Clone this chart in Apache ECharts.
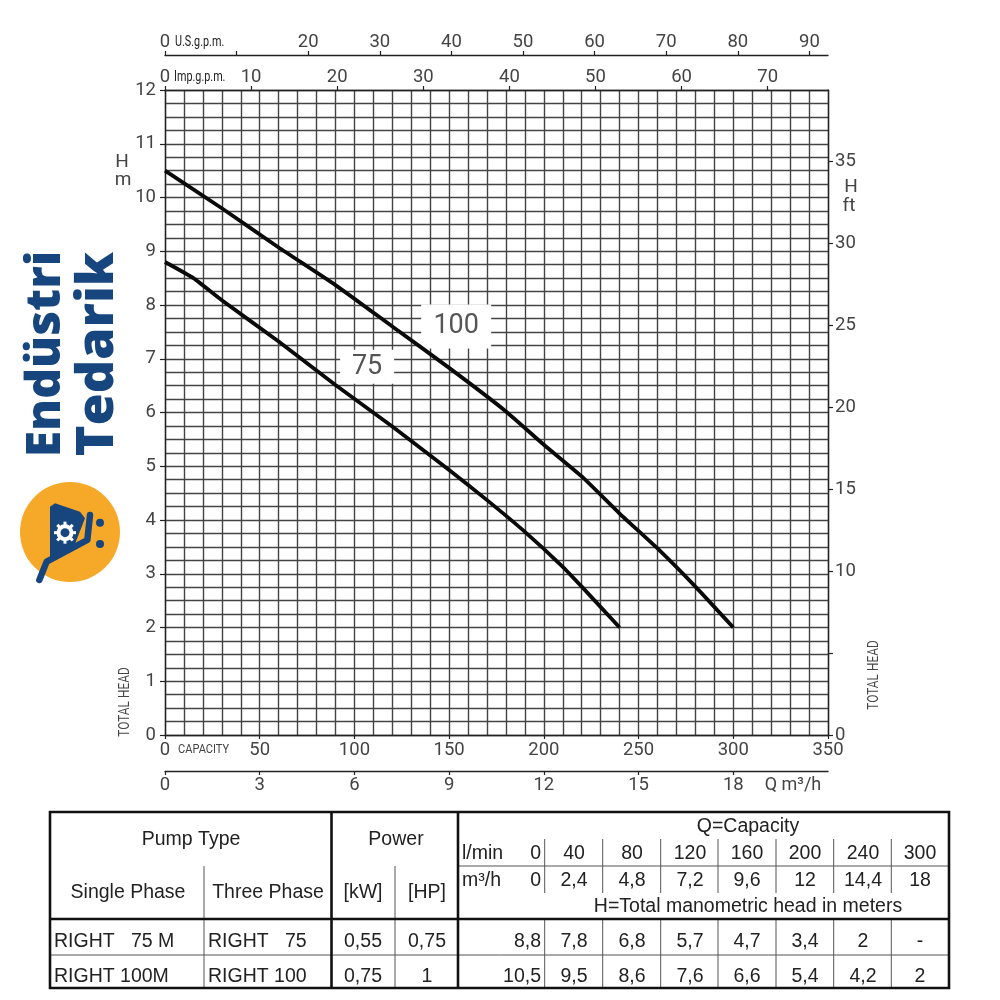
<!DOCTYPE html>
<html><head><meta charset="utf-8">
<style>html,body{margin:0;padding:0;background:#fff}#c{width:1000px;height:1000px}</style>
<script src="https://cdn.jsdelivr.net/npm/echarts@6/dist/echarts.min.js"></script>
</head><body><div id="c"></div>
<script>
// ---- Data ----
const capacityLmin100 = [0, 30, 60, 90, 120, 150, 180, 200, 220, 240, 260, 280, 300];
const head100         = [10.5, 9.8, 9.07, 8.37, 7.6, 6.83, 6.02, 5.4, 4.81, 4.12, 3.47, 2.76, 2];
const capacityLmin75  = [0, 15, 30, 60, 90, 120, 150, 170, 190, 210, 220, 240];
const head75          = [8.8, 8.5, 8.09, 7.32, 6.51, 5.74, 4.93, 4.37, 3.78, 3.13, 2.76, 2];
const ftHiddenLabels  = [5];
const labelPos100 = [153.7, 7.60];
const labelPos75  = [106.7, 6.85];

const tableQlmin = ['0','40','80','120','160','200','240','300'];
const tableQm3h  = ['0','2,4','4,8','7,2','9,6','12','14,4','18'];
const tableH75   = ['8,8','7,8','6,8','5,7','4,7','3,4','2','-'];
const tableH100  = ['10,5','9,5','8,6','7,6','6,6','5,4','4,2','2'];

const narrow = 'Roboto,"Liberation Sans",sans-serif';
const tickFont = 18.5;
const inkAxis = '#444', gridC = '#444';

function zipPts(a, b){ return a.map((v,i)=>[v,b[i]]); }

function axisBase(extra){
  return Object.assign({
    type:'value', silent:true,
    axisLine:{show:true,onZero:false,lineStyle:{color:'#222',width:1.3}},
    axisTick:{show:true,length:4,lineStyle:{color:'#222',width:1.2}},
    axisLabel:{color:inkAxis,fontFamily:narrow,fontSize:tickFont,margin:5},
    splitLine:{show:false}, minorSplitLine:{show:false}
  }, extra);
}
function gridAxis(extra){
  return Object.assign({
    type:'value', silent:true,
    axisLine:{show:false}, axisTick:{show:false}, axisLabel:{show:false},
    splitLine:{show:true,lineStyle:{color:gridC,width:1.4}}
  }, extra);
}

// ---- Non-data graphics ----
const g = [];
function txt(x,y,t,o){ o=o||{};
  g.push({type:'text',x,y,rotation:o.rot||0,scaleX:o.sx||1,scaleY:o.sy||1,z:o.z||10,silent:true,style:{
    text:t,fill:o.c||'#222',font:(o.w||'normal')+' '+(o.s||19.5)+'px '+(o.f||'"Liberation Sans",Arial,sans-serif'),
    textAlign:o.a||'center',textVerticalAlign:'middle'}});
}
function ln(x1,y1,x2,y2,w,c){
  g.push({type:'line',z:9,silent:true,shape:{x1,y1,x2,y2},style:{stroke:c||'#000',lineWidth:w}});
}
// chart side texts
txt(122,162,'H',{f:narrow,s:19,c:inkAxis}); txt(123,180,'m',{f:narrow,s:19,c:inkAxis});
txt(851,187,'H',{f:narrow,s:19,c:inkAxis}); txt(849,206,'ft',{f:narrow,s:19,c:inkAxis});
txt(125,702,'TOTAL HEAD',{f:narrow,s:14,sx:.85,rot:Math.PI/2,c:inkAxis});
txt(874,675,'TOTAL HEAD',{f:narrow,s:14,sx:.85,rot:Math.PI/2,c:inkAxis});
txt(178,750,'CAPACITY',{f:narrow,s:13,sx:.85,a:'left',c:inkAxis});
txt(793,785,'Q m³/h',{f:narrow,s:18,c:inkAxis});
txt(175,42,'U.S.g.p.m.',{f:narrow,s:15,sx:.72,a:'left',c:'#222'});
txt(174,77,'Imp.g.p.m.',{f:narrow,s:15,sx:.72,a:'left',c:'#222'});

// logo
txt(46,354,'Endüstri',{f:'"Open Sans",sans-serif',w:'800',s:48,rot:Math.PI/2,c:'#17467f'});
txt(98,354,'Tedarik',{f:'"Open Sans",sans-serif',w:'800',s:52,rot:Math.PI/2,c:'#17467f'});
g.push({type:'circle',z:5,silent:true,shape:{cx:70,cy:532,r:50},style:{fill:'#f6a829'}});
const P=(x,y)=>[x/3+10,y/3+240];
g.push({type:'polygon',z:6,silent:true,shape:{points:[P(120,800),P(135,790),P(210,815),P(225,835),P(190,925),P(120,960)]},style:{fill:'#17467f'}});
g.push({type:'polyline',z:6,silent:true,shape:{points:[P(240,825),P(232,900),P(110,965),P(88,1020)]},style:{stroke:'#17467f',lineWidth:6.5,lineCap:'round',lineJoin:'round',fill:'none'}});
g.push({type:'circle',z:6,silent:true,shape:{cx:P(270,848)[0],cy:P(270,848)[1],r:4},style:{fill:'#17467f'}});
g.push({type:'circle',z:6,silent:true,shape:{cx:P(270,912)[0],cy:P(270,912)[1],r:4},style:{fill:'#17467f'}});
const gc=P(165,878);
for(let i=0;i<8;i++){const a=i*Math.PI/4;
  g.push({type:'line',z:7,silent:true,shape:{x1:gc[0]+6*Math.cos(a),y1:gc[1]+6*Math.sin(a),x2:gc[0]+11*Math.cos(a),y2:gc[1]+11*Math.sin(a)},style:{stroke:'#fff',lineWidth:3}});
}
g.push({type:'circle',z:7,silent:true,shape:{cx:gc[0],cy:gc[1],r:8.5},style:{fill:'#fff'}});
g.push({type:'circle',z:8,silent:true,shape:{cx:gc[0],cy:gc[1],r:4.5},style:{fill:'#17467f'}});

// table
const L=50,R=949,T=812,B=988,V1=331.5,V2=458,Hm=866,Hh=919,Hr=955;
const qx=[544.7,602.7,660.7,718,776,833.7,891.3];
const qc=[541,574,632,690,747,805,863,920];
const thinC='#555';
ln(V2,Hm,R,Hm,1,thinC);
ln(L,Hr,R,Hr,1,thinC);
ln(204,Hm,204,B,1,thinC); ln(395,Hm,395,B,1,thinC);
qx.forEach(x=>{ ln(x,839,x,893,1,thinC); ln(x,Hh,x,B,1,thinC); });
ln(L,Hh,R,Hh,2.6,'#111'); ln(V1,T,V1,B,2.6,'#111'); ln(V2,T,V2,B,2.6,'#111');
g.push({type:'rect',z:9,silent:true,shape:{x:L,y:T,width:R-L,height:B-T},style:{fill:'none',stroke:'#111',lineWidth:2.6}});
txt(191,840,'Pump Type'); txt(396,840,'Power');
txt(128,893,'Single Phase'); txt(268,893,'Three Phase'); txt(363,893,'[kW]'); txt(427,893,'[HP]');
txt(54,942,'RIGHT   75 M',{a:'left'}); txt(208,942,'RIGHT   75',{a:'left'});
txt(54,977,'RIGHT 100M',{a:'left'}); txt(208,977,'RIGHT 100',{a:'left'});
txt(363,942,'0,55'); txt(427,942,'0,75'); txt(363,977,'0,75'); txt(427,977,'1');
txt(748,827,'Q=Capacity'); txt(748,907,'H=Total manometric head in meters');
txt(462,854,'l/min',{a:'left'}); txt(462,881,'m³/h',{a:'left'});
[[tableQlmin,854],[tableQm3h,881],[tableH75,942],[tableH100,977]].forEach(([row,y])=>{
  row.forEach((v,i)=> txt(qc[i],y,v,{a:i===0?'right':'center'}));
});

const chart = echarts.init(document.getElementById('c'),null,{width:1000,height:1000});
chart.setOption({
  animation:false, backgroundColor:'#fff',
  grid:{left:165,right:172,top:90,bottom:265,containLabel:false,show:false},
  xAxis:[
    axisBase({position:'bottom',min:0,max:350,interval:50,
      axisLabel:{color:inkAxis,fontFamily:narrow,fontSize:tickFont,margin:6}}),
    axisBase({position:'bottom',offset:36,min:0,max:21,interval:3,
      axisLabel:{color:inkAxis,fontFamily:narrow,fontSize:tickFont,margin:5,showMaxLabel:false}}),
    axisBase({position:'top',offset:0,min:0,max:77,interval:10,
      axisLabel:{color:inkAxis,fontFamily:narrow,fontSize:tickFont,margin:3,showMaxLabel:false}}),
    axisBase({position:'top',offset:35,min:0,max:92.6,interval:10,
      axisLabel:{color:inkAxis,fontFamily:narrow,fontSize:tickFont,margin:3,showMaxLabel:false,
        formatter:v=>v===10?'':String(v)}}),
    gridAxis({position:'bottom',min:0,max:350,interval:10})
  ],
  yAxis:[
    axisBase({position:'left',min:0,max:12,interval:1,
      axisTick:{show:true,length:5,lineStyle:{color:'#222',width:1.2}},
      axisLabel:{color:inkAxis,fontFamily:narrow,fontSize:tickFont,margin:9}}),
    axisBase({position:'right',min:0,max:39.37,interval:5,
      axisTick:{show:true,length:5,lineStyle:{color:'#222',width:1.2}},
      axisLabel:{color:inkAxis,fontFamily:narrow,fontSize:tickFont,margin:7,showMaxLabel:false,
        formatter:v=>ftHiddenLabels.includes(v)?'':String(v)}}),
    gridAxis({position:'left',min:0,max:12,interval:0.25})
  ],
  series:[
    {type:'line',name:'labels',xAxisIndex:0,yAxisIndex:0,z:2,data:[],symbol:'none',silent:true,
      markPoint:{z:2,silent:true,symbol:'rect',symbolSize:[70,44],itemStyle:{color:'#fff'},
        label:{show:true,position:'inside',color:'#555',fontFamily:narrow,fontSize:27,formatter:p=>p.name},
        data:[{name:'100',coord:labelPos100},{name:'75',coord:labelPos75,symbolSize:[54,34]}]}},
    {type:'line',name:'100',xAxisIndex:0,yAxisIndex:0,z:3,data:zipPts(capacityLmin100,head100),
      symbol:'none',smooth:0.15,lineStyle:{color:'#0a0a0a',width:3.8,join:'round'},silent:true},
    {type:'line',name:'75',xAxisIndex:0,yAxisIndex:0,z:3,data:zipPts(capacityLmin75,head75),
      symbol:'none',smooth:0.15,lineStyle:{color:'#0a0a0a',width:3.8,join:'round'},silent:true}
  ],
  graphic:{elements:g}
});
</script></body></html>
